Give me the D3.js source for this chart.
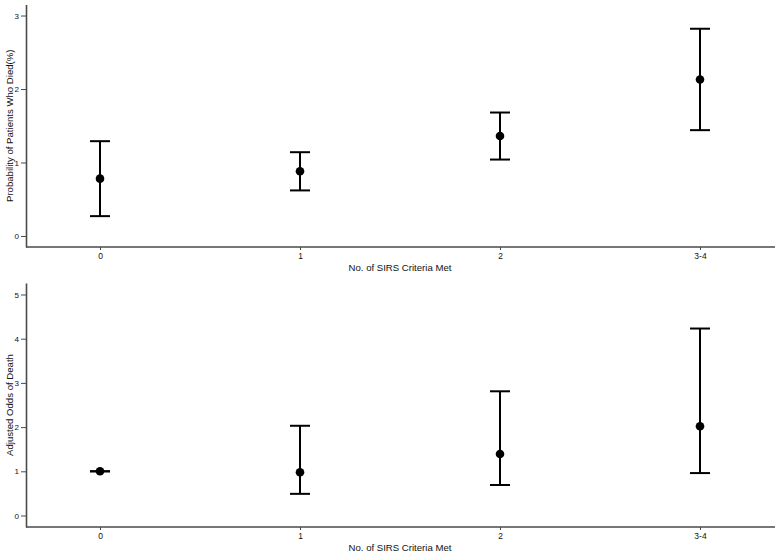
<!DOCTYPE html>
<html><head><meta charset="utf-8">
<script src="https://cdn.jsdelivr.net/npm/d3@7"></script>
<style>html,body{margin:0;padding:0;background:#fff}svg{display:block}</style>
</head><body>
<svg id="chart" width="780" height="554"></svg>
<script>
const categories = ["0", "1", "2", "3-4"];
// Panel 1: probability of death (%)
const probMean  = [0.78, 0.88, 1.36, 2.13];
const probLower = [0.27, 0.62, 1.04, 1.44];
const probUpper = [1.29, 1.14, 1.68, 2.82];
const probTicks = [0, 1, 2, 3];
// Panel 2: adjusted odds of death
const oddsMean  = [1.00, 0.98, 1.39, 2.02];
const oddsLower = [1.00, 0.49, 0.69, 0.96];
const oddsUpper = [1.00, 2.03, 2.81, 4.23];
const oddsTicks = [0, 1, 2, 3, 4, 5];

const svg = d3.select("#chart");
const font = "'Liberation Sans', Arial, sans-serif";
const axisColor = "#4a4a4a";

function panel(cfg) {
  const g = svg.append("g");
  const x = d3.scalePoint().domain(categories).range([100, 700]);
  const y = d3.scaleLinear().domain(cfg.domain).range([cfg.bottom, cfg.top]);
  const xLeft = 26, xRight = 775;

  // y axis
  const ya = g.append("g").attr("transform", `translate(${xLeft},0)`)
    .call(d3.axisLeft(y).tickValues(cfg.ticks).tickFormat(d3.format("d"))
      .tickSize(5).tickPadding(2).tickSizeOuter(0));
  ya.select(".domain").attr("stroke", axisColor).attr("stroke-width", 1.6);
  ya.selectAll(".tick line").attr("stroke", axisColor);
  ya.selectAll(".tick text").attr("font-family", font).attr("font-size", 8).attr("fill", "#111");

  // x axis
  const xa = g.append("g").attr("transform", `translate(0,${cfg.bottom})`)
    .call(d3.axisBottom(x).tickSize(3).tickPadding(3).tickSizeOuter(0));
  xa.select(".domain").remove();
  xa.selectAll(".tick line").attr("stroke", axisColor);
  xa.selectAll(".tick text").attr("font-family", font).attr("font-size", 8.5).attr("fill", "#111");
  g.append("line").attr("x1", xLeft).attr("x2", xRight)
    .attr("y1", cfg.bottom).attr("y2", cfg.bottom)
    .attr("stroke", axisColor).attr("stroke-width", 1.6);

  // titles
  g.append("text").attr("x", 400).attr("y", cfg.bottom + 24)
    .attr("text-anchor", "middle").attr("font-family", font).attr("font-size", 9.6)
    .attr("fill", "#111").text("No. of SIRS Criteria Met");
  g.append("text")
    .attr("transform", `translate(13,${(cfg.top + cfg.bottom) / 2}) rotate(-90)`)
    .attr("text-anchor", "middle").attr("font-family", font).attr("font-size", 9.6)
    .attr("fill", "#111").text(cfg.ylabel);

  const data = categories.map((c, i) => ({c, m: cfg.mean[i], lo: cfg.lower[i], hi: cfg.upper[i]}));
  const eb = g.append("g").attr("stroke", "#000").attr("stroke-width", 2);
  eb.selectAll("line.v").data(data).join("line").attr("class", "v")
    .attr("x1", d => x(d.c)).attr("x2", d => x(d.c))
    .attr("y1", d => y(d.lo)).attr("y2", d => y(d.hi));
  eb.selectAll("line.u").data(data).join("line").attr("class", "u")
    .attr("x1", d => x(d.c) - 10).attr("x2", d => x(d.c) + 10)
    .attr("y1", d => y(d.hi)).attr("y2", d => y(d.hi));
  eb.selectAll("line.l").data(data).join("line").attr("class", "l")
    .attr("x1", d => x(d.c) - 10).attr("x2", d => x(d.c) + 10)
    .attr("y1", d => y(d.lo)).attr("y2", d => y(d.lo));
  g.selectAll("circle").data(data).join("circle")
    .attr("cx", d => x(d.c)).attr("cy", d => y(d.m)).attr("r", 4.3).attr("fill", "#000");
}

panel({domain: [-0.15, 3.15], top: 4.5, bottom: 247, ticks: probTicks,
  mean: probMean, lower: probLower, upper: probUpper,
  ylabel: "Probability of Patients Who Died(%)"});
panel({domain: [-0.26, 5.26], top: 283, bottom: 527, ticks: oddsTicks,
  mean: oddsMean, lower: oddsLower, upper: oddsUpper,
  ylabel: "Adjusted Odds of Death"});
</script>
</body></html>
